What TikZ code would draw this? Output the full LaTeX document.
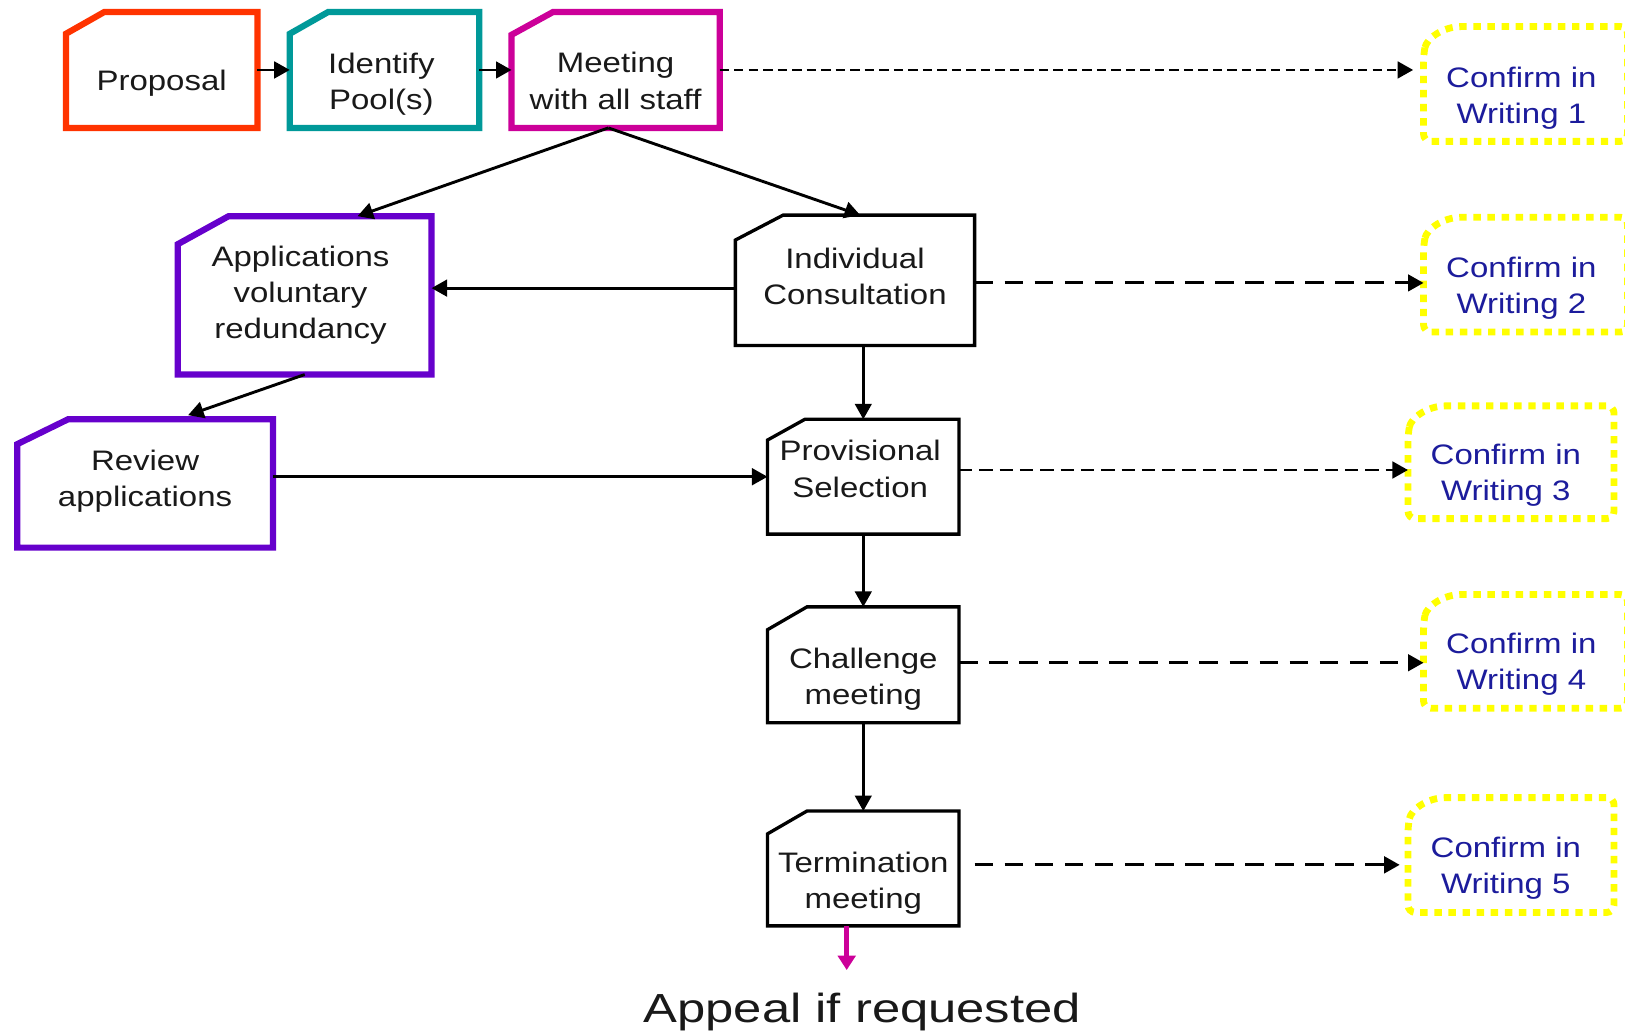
\documentclass[tikz,border=0pt]{standalone}
\usepackage{fontspec}
\setmainfont{Liberation Sans}[FakeStretch=1.17]
\newfontfamily\appealfont{Liberation Sans}[FakeStretch=1.25]
\usetikzlibrary{calc,arrows.meta}
\definecolor{cprop}{HTML}{FF3300}
\definecolor{cpool}{HTML}{009999}
\definecolor{cmeet}{HTML}{CC0099}
\definecolor{cpurp}{HTML}{6600CC}
\definecolor{cyel}{HTML}{FFFF00}
\definecolor{cblue}{HTML}{1C1C9C}
\tikzset{
  boxn/.style={draw=none, rectangle, inner sep=0pt},
  txt/.style={font=\fontsize{13.6}{17.5}\selectfont, align=center, inner sep=0pt, text=black!90},
  ctxt/.style={txt, text=cblue},
  colframe/.style={line width=3pt, draw=#1, line join=miter},
  blkframe/.style={line width=1.6pt, draw=black, line join=miter},
  ydot/.style={line width=3.3pt, draw=cyel, dash pattern=on 3.6pt off 3.2pt},
  arr/.style={-{Triangle[length=7.5pt,width=8pt]}, line width=1.4pt},
  dshA/.style={arr, dash pattern=on 4.5pt off 2.5pt},
  dshB/.style={arr, dash pattern=on 9pt off 5.5pt},
  dshC/.style={arr, dash pattern=on 6.4pt off 3.4pt},
  apparr/.style={-{Triangle[length=7pt,width=8.5pt]}, line width=2.4pt, draw=cmeet, fill=cmeet}
}
\newcommand\chamf[4]{%
  \draw[#1] ($(#2.north west)+(#3,0)$) -- (#2.north east) -- (#2.south east)
    -- (#2.south west) -- ($(#2.north west)+(0,#4)$) -- cycle;}
\newcommand\ybox[1]{%
  \draw[ydot] ($(#1.north west)+(0,27)$) .. controls ($(#1.north west)+(3,12)$) and ($(#1.north west)+(18,0)$) .. ($(#1.north west)+(37,0)$)
    [rounded corners=3.5pt] -- (#1.north east) -- (#1.south east) -- (#1.south west) -- cycle;}
\begin{document}
\begin{tikzpicture}[x=0.5pt,y=-0.5pt]
\useasboundingbox[fill=white] (0,0) rectangle (1568,997);

% top row
\node[boxn, minimum width=92pt, minimum height=55.5pt,
  label={[txt,yshift=-6.25pt]center:Proposal}] (prop) at (156,67.5) {};
\node[boxn, minimum width=91pt, minimum height=55.5pt,
  label={[txt,xshift=-1.5pt,yshift=-6.75pt]center:Identify\\Pool(s)}] (iden) at (371,67.5) {};
\node[boxn, minimum width=100pt, minimum height=55.5pt,
  label={[txt,yshift=-5.25pt]center:Meeting\\with all staff}] (meet) at (594,67.5) {};

% left branch
\node[boxn, minimum width=122pt, minimum height=76pt,
  label={[txt,xshift=-2pt,yshift=0pt]center:Applications\\voluntary\\redundancy}] (app) at (294,285) {};
\node[boxn, minimum width=123pt, minimum height=61.5pt,
  label={[txt,yshift=1.25pt]center:Review\\applications}] (rev) at (140,466.5) {};

% central column
\node[boxn, minimum width=115pt, minimum height=62.5pt,
  label={[txt,yshift=2pt]center:Individual\\Consultation}] (ind) at (825,270.5) {};
\node[boxn, minimum width=92pt, minimum height=55pt,
  label={[txt,xshift=-1.5pt,yshift=3.75pt]center:Provisional\\Selection}] (prov) at (833,460) {};
\node[boxn, minimum width=92pt, minimum height=55.5pt,
  label={[txt,yshift=-7pt]center:Challenge\\meeting}] (chal) at (833,641.5) {};
\node[boxn, minimum width=92pt, minimum height=55pt,
  label={[txt,yshift=-7pt]center:Termination\\meeting}] (term) at (833,838) {};

% confirm boxes
\node[boxn, minimum width=98pt, minimum height=55pt,
  label={[ctxt,xshift=-2pt,yshift=-7pt]center:Confirm in\\Writing 1}] (c1) at (1472,81) {};
\node[boxn, minimum width=98pt, minimum height=55pt,
  label={[ctxt,xshift=-2pt,yshift=-6.5pt]center:Confirm in\\Writing 2}] (c2) at (1472,265) {};
\node[boxn, minimum width=99pt, minimum height=54pt,
  label={[ctxt,xshift=-2.5pt,yshift=-6.25pt]center:Confirm in\\Writing 3}] (c3) at (1458,446) {};
\node[boxn, minimum width=98pt, minimum height=54.5pt,
  label={[ctxt,xshift=-2pt,yshift=-6.25pt]center:Confirm in\\Writing 4}] (c4) at (1472,628.5) {};
\node[boxn, minimum width=99pt, minimum height=55pt,
  label={[ctxt,xshift=-2.5pt,yshift=-6.5pt]center:Confirm in\\Writing 5}] (c5) at (1458,825) {};

\node[inner sep=0pt, anchor=base, font=\appealfont\fontsize{19.6}{22}\selectfont, text=black!90] (appeal) at (832,986.5) {Appeal if requested};

% frames
\chamf{colframe=cprop}{prop}{37}{21}
\chamf{colframe=cpool}{iden}{37}{21}
\chamf{colframe=cmeet}{meet}{40}{22}
\chamf{colframe=cpurp}{app}{49}{27}
\chamf{colframe=cpurp}{rev}{49}{24}
\chamf{blkframe}{ind}{46}{24}
\chamf{blkframe}{prov}{36}{20}
\chamf{blkframe}{chal}{38}{22}
\chamf{blkframe}{term}{38}{22}
\ybox{c1}\ybox{c2}\ybox{c3}\ybox{c4}\ybox{c5}

% connectors
\draw[arr] (prop.east) -- (iden.west);
\draw[arr] (iden.east) -- (meet.west);
\draw[dshA, shorten >=5pt] (meet.east) -- (meet.east -| c1.west);
\draw[arr] ([xshift=-3.5pt]meet.south) -- ([xshift=25.5pt]app.north);
\draw[arr] ([xshift=-3.5pt]meet.south) -- ([xshift=2.5pt]ind.north);
\draw[arr] ([yshift=-3.75pt]ind.west) -- ([yshift=-3.75pt]ind.west -| app.east);
\draw[dshB] ([yshift=-1.25pt]ind.east) -- ([yshift=-1.25pt]ind.east -| c2.west);
\draw[arr] (prov.north |- ind.south) -- (prov.north);
\draw[arr] (app.south) -- ([xshift=20.75pt,yshift=2pt]rev.north);
\draw[arr] (rev.east |- prov.west) -- (prov.west);
\draw[dshC] ([yshift=3.25pt]prov.east) -- ([yshift=3.25pt]prov.east -| c3.west);
\draw[arr] (prov.south) -- (chal.north);
\draw[dshB] ([yshift=1pt]chal.east) -- ([yshift=1pt]chal.east -| c4.west);
\draw[arr] (chal.south) -- (term.north);
\draw[dshB, shorten >=4pt] ([xshift=7.5pt,yshift=1.75pt]term.east) -- ([yshift=1.75pt]term.east -| c5.west);
\coordinate (apptip) at (817,936);
\draw[apparr] ([xshift=-8pt]term.south) -- (apptip);
\end{tikzpicture}
\end{document}
